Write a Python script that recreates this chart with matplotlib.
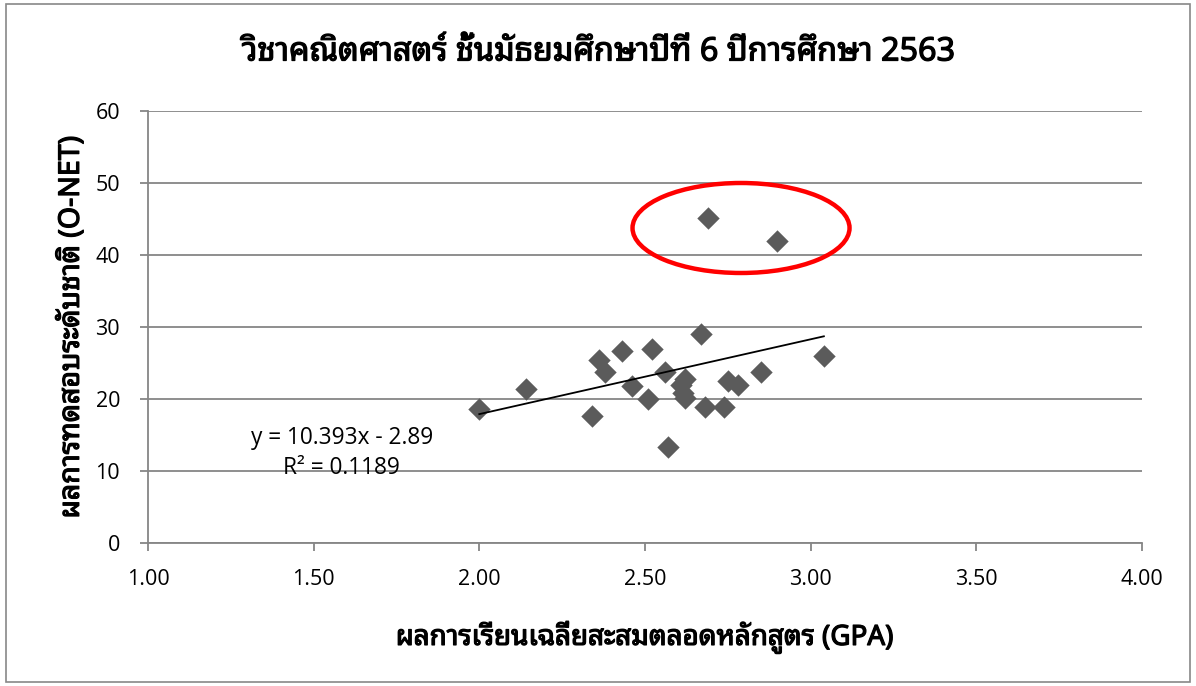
import matplotlib
matplotlib.use("Agg")
import matplotlib.pyplot as plt
import matplotlib.patheffects as pe
from matplotlib import font_manager
from matplotlib.ft2font import FT2Font
from matplotlib.patches import Ellipse, Rectangle

# ข้อมูล (อ่านจากกราฟ)
gpa = [2.00, 2.14, 2.34, 2.36, 2.38, 2.43, 2.46, 2.51, 2.52, 2.56, 2.57, 2.61,
       2.62, 2.615, 2.62, 2.67, 2.68, 2.69, 2.74, 2.75, 2.78, 2.85, 2.90, 3.04]
onet = [18.6, 21.4, 17.6, 25.4, 23.7, 26.7, 21.8, 20.0, 27.0, 23.7, 13.3, 21.9,
        22.8, 20.8, 20.1, 29.0, 18.9, 45.2, 18.9, 22.5, 21.9, 23.8, 41.9, 26.0]
slope = 10.393
intercept = -2.89
r2 = 0.1189

title = "วิชาคณิตศาสตร์ ชั้นมัธยมศึกษาปีที่ 6 ปีการศึกษา 2563"
xlabel = "ผลการเรียนเฉลี่ยสะสมตลอดหลักสูตร (GPA)"
ylabel = "ผลการทดสอบระดับชาติ (O-NET)"
xticks = [1.00, 1.50, 2.00, 2.50, 3.00, 3.50, 4.00]
yticks = [0, 10, 20, 30, 40, 50, 60]


# หา font ที่มีตัวอักษรไทย
def has_thai(path):
    try:
        return FT2Font(path).get_char_index(0x0E01) != 0
    except Exception:
        return False

thai_fonts = []
for f in font_manager.fontManager.ttflist:
    if f.name not in thai_fonts and has_thai(f.fname):
        thai_fonts.append(f.name)
preferred = ["Tahoma", "Noto Sans Thai Looped", "Loma", "Garuda", "Noto Sans Thai",
             "Noto Serif Thai"]
thai = [n for n in preferred if n in thai_fonts] + thai_fonts
thai_family = thai[:1] + ["DejaVu Sans"]
# ตัวหนาแบบเทียม
bold = [pe.withStroke(linewidth=0.9, foreground="black")]

num_font = "Open Sans"
grey = "#868686"

fig = plt.figure(figsize=(11.96, 6.86), dpi=100)
ax = fig.add_axes([0.1237, 0.2085, 0.8311, 0.6297])

# กรอบรอบรูป
fig.patches.append(Rectangle((6 / 1196, 4 / 686), 1184 / 1196, 678 / 686,
                             transform=fig.transFigure, fill=False,
                             edgecolor="#888888", lw=1.2))

ax.scatter(gpa, onet, marker="D", s=130, color="#5b5b5b", zorder=3, linewidths=0)

# เส้นแนวโน้ม
x0, x1 = min(gpa), max(gpa)
ax.plot([x0, x1], [slope * x0 + intercept, slope * x1 + intercept],
        color="black", lw=1.3, zorder=4)

ax.text(1.585, 14.6, "y = %.3fx - %.2f" % (slope, abs(intercept)),
        ha="center", va="center", fontsize=16.3, family=num_font)
ax.text(1.585, 10.4, "R² = %.4f" % r2,
        ha="center", va="center", fontsize=16.3, family=num_font)

# วงกลมสีแดง
ax.add_patch(Ellipse((2.79, 43.75), 0.655, 12.5, fill=False,
                     edgecolor="red", lw=3.2, zorder=5))

ax.set_xlim(1, 4)
ax.set_ylim(0, 60)
ax.set_xticks(xticks)
ax.set_xticklabels(["%.2f" % v for v in xticks])
ax.set_yticks(yticks)
ax.yaxis.grid(True, color=grey, lw=1.3)
ax.set_axisbelow(True)
for s in ["top", "right"]:
    ax.spines[s].set_visible(False)
for s in ["left", "bottom"]:
    ax.spines[s].set_color(grey)
    ax.spines[s].set_linewidth(1.3)
ax.tick_params(axis="both", color=grey, width=1.3, length=6,
               labelsize=15.5, pad=13)
for lab in ax.get_xticklabels() + ax.get_yticklabels():
    lab.set_family(num_font)
ax.tick_params(axis="y", pad=14)

ax.set_xlabel(xlabel, family=thai_family, fontsize=20, labelpad=22,
              path_effects=bold)
ax.set_ylabel(ylabel, family=thai_family, fontsize=20.5, labelpad=7,
              path_effects=bold)
fig.text(0.5, 1 - 52 / 686, title, family=thai_family, fontsize=23.3,
         ha="center", va="center", path_effects=bold)

fig.savefig("out.png", dpi=100)
